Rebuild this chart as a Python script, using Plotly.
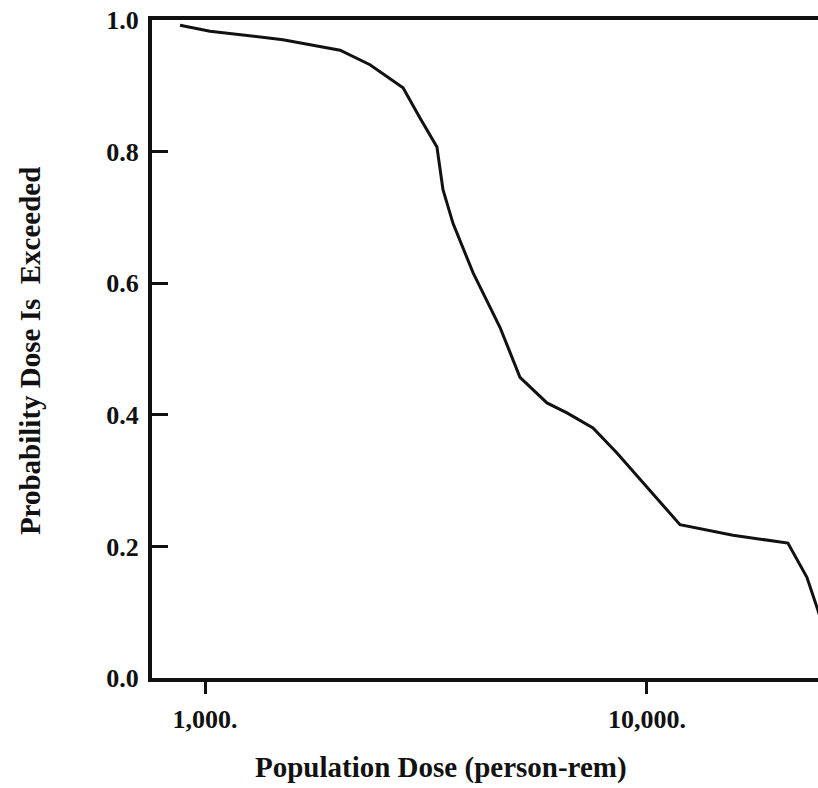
import plotly.graph_objects as go

# Data (population dose in person-rem, exceedance probability)
dose = [878, 1026, 1501, 2021, 2362, 2806, 3065, 3348, 3455, 3640, 4040, 4649,
        5160, 5939, 6592, 7548, 8553, 10000, 11877, 15651, 20840, 23010, 24370, 25940]
prob = [0.992, 0.983, 0.970, 0.954, 0.932, 0.897, 0.851, 0.807, 0.742, 0.691, 0.616, 0.533,
        0.457, 0.418, 0.403, 0.380, 0.342, 0.290, 0.233, 0.217, 0.205, 0.153, 0.103, 0.043]

x_tick_vals = [1000, 10000]
x_tick_text = ["1,000.", "10,000."]
y_tick_vals = [0.0, 0.2, 0.4, 0.6, 0.8, 1.0]
y_tick_text = ["0.0", "0.2", "0.4", "0.6", "0.8", "1.0"]

x_title = "Population Dose (person-rem)"
y_title = "Probability Dose Is  Exceeded"

FONT = "Liberation Serif"

fig = go.Figure()
fig.add_trace(go.Scatter(x=dose, y=prob, mode="lines",
                         line=dict(color="#111111", width=3), showlegend=False,
                         cliponaxis=True))

fig.update_layout(
    width=818, height=788,
    margin=dict(l=152, r=0, t=20, b=110),
    paper_bgcolor="white", plot_bgcolor="white",
    font=dict(family=FONT, color="#111111"),
)
fig.update_xaxes(
    type="log", range=[2.880, 4.387],
    showgrid=False, zeroline=False,
    showline=True, linecolor="#111111", linewidth=4, mirror=True,
    ticks="outside", ticklen=12, tickwidth=3, tickcolor="#111111",
    tickvals=x_tick_vals, ticktext=x_tick_text,
    tickfont=dict(family=FONT, size=26, color="#111111", weight="bold"),
    ticklabelstandoff=3,
)
fig.update_yaxes(
    range=[0, 1.0],
    showgrid=False, zeroline=False,
    showline=True, linecolor="#111111", linewidth=4, mirror=False,
    ticks="inside", ticklen=16, tickwidth=3, tickcolor="#111111",
    tickvals=y_tick_vals, ticktext=y_tick_text,
    tickfont=dict(family=FONT, size=26, color="#111111", weight="bold"),
    ticklabelstandoff=4,
)

fig.add_annotation(text=x_title, xref="paper", yref="paper",
                   x=0.434, y=-0.136, xanchor="center", yanchor="middle",
                   showarrow=False,
                   font=dict(family=FONT, size=29, color="#111111", weight="bold"))
fig.add_annotation(text=y_title, xref="paper", yref="paper",
                   x=-0.183, y=0.497, xanchor="center", yanchor="middle",
                   textangle=-90, showarrow=False,
                   font=dict(family=FONT, size=29, color="#111111", weight="bold"))

fig.write_html("out.html")
